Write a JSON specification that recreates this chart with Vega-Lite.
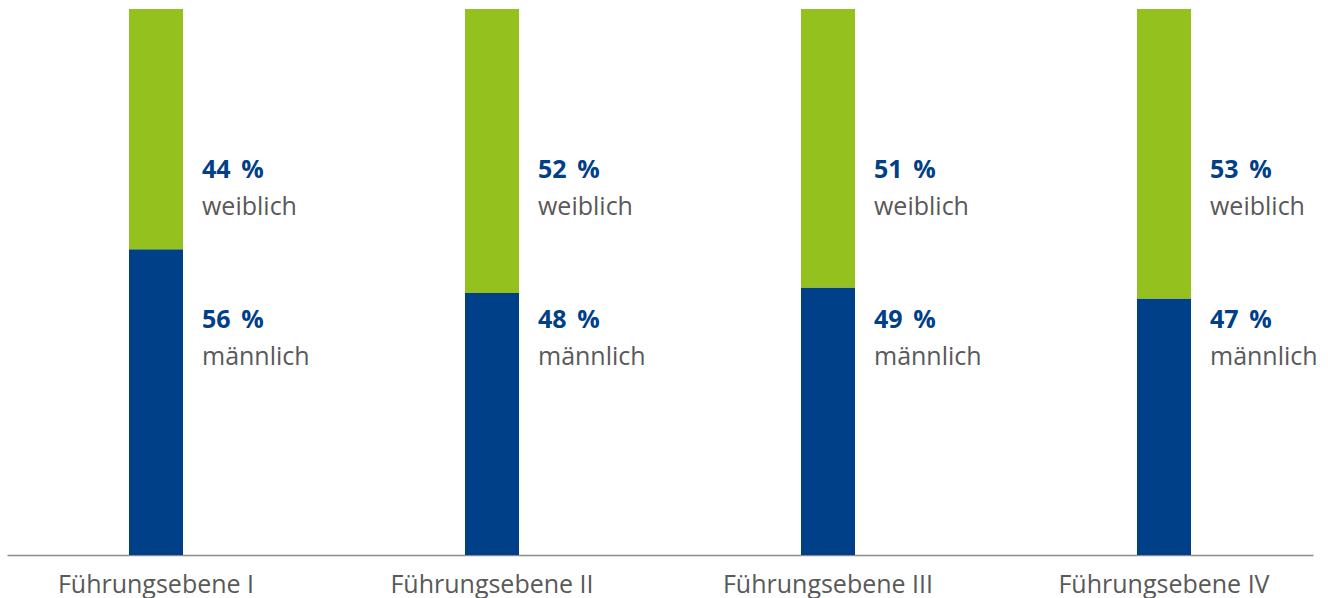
{
  "$schema": "https://vega.github.io/schema/vega-lite/v6.json",
  "width": 1306,
  "height": 546,
  "autosize": {"type": "none"},
  "padding": {"left": 7, "top": 9, "right": 15, "bottom": 43},
  "background": "white",
  "config": {"view": {"stroke": null}, "font": "Open Sans"},
  "data": {
    "values": [
      {"level": "Führungsebene I", "gender": "männlich", "value": 56},
      {"level": "Führungsebene I", "gender": "weiblich", "value": 44},
      {"level": "Führungsebene II", "gender": "männlich", "value": 48},
      {"level": "Führungsebene II", "gender": "weiblich", "value": 52},
      {"level": "Führungsebene III", "gender": "männlich", "value": 49},
      {"level": "Führungsebene III", "gender": "weiblich", "value": 51},
      {"level": "Führungsebene IV", "gender": "männlich", "value": 47},
      {"level": "Führungsebene IV", "gender": "weiblich", "value": 53}
    ]
  },
  "transform": [{"calculate": "datum.value + ' \u2009%'", "as": "pct"}],
  "encoding": {
    "x": {
      "field": "level",
      "type": "nominal",
      "sort": null,
      "scale": {"paddingInner": 0.83929, "paddingOuter": 0.3631},
      "axis": {
        "title": null,
        "labelAngle": 0,
        "ticks": false,
        "domainColor": "#8c8c8c",
        "domainWidth": 1.5,
        "labelFont": "Open Sans",
        "labelFontSize": 25,
        "labelColor": "#595959",
        "labelBaseline": "alphabetic",
        "labelPadding": 37,
        "labelLimit": 0,
        "labelOverlap": false
      }
    }
  },
  "layer": [
    {
      "mark": {"type": "bar"},
      "encoding": {
        "y": {"field": "value", "type": "quantitative", "stack": "zero", "scale": {"domain": [0, 100]}, "axis": null},
        "color": {"field": "gender", "type": "nominal", "scale": {"domain": ["männlich", "weiblich"], "range": ["#004088", "#95c11f"]}, "legend": null},
        "order": {"field": "gender", "sort": "ascending"}
      }
    },
    {
      "transform": [{"filter": "datum.gender === 'weiblich'"}],
      "mark": {"type": "text", "align": "left", "baseline": "alphabetic", "dx": 46, "fontSize": 25, "fontWeight": "bold", "color": "#004088"},
      "encoding": {"y": {"datum": 69.05}, "text": {"field": "pct"}}
    },
    {
      "transform": [{"filter": "datum.gender === 'weiblich'"}],
      "mark": {"type": "text", "align": "left", "baseline": "alphabetic", "dx": 46, "fontSize": 25, "color": "#595959"},
      "encoding": {"y": {"datum": 62.27}, "text": {"field": "gender"}}
    },
    {
      "transform": [{"filter": "datum.gender === 'männlich'"}],
      "mark": {"type": "text", "align": "left", "baseline": "alphabetic", "dx": 46, "fontSize": 25, "fontWeight": "bold", "color": "#004088"},
      "encoding": {"y": {"datum": 41.58}, "text": {"field": "pct"}}
    },
    {
      "transform": [{"filter": "datum.gender === 'männlich'"}],
      "mark": {"type": "text", "align": "left", "baseline": "alphabetic", "dx": 46, "fontSize": 25, "color": "#595959"},
      "encoding": {"y": {"datum": 34.8}, "text": {"field": "gender"}}
    }
  ]
}
